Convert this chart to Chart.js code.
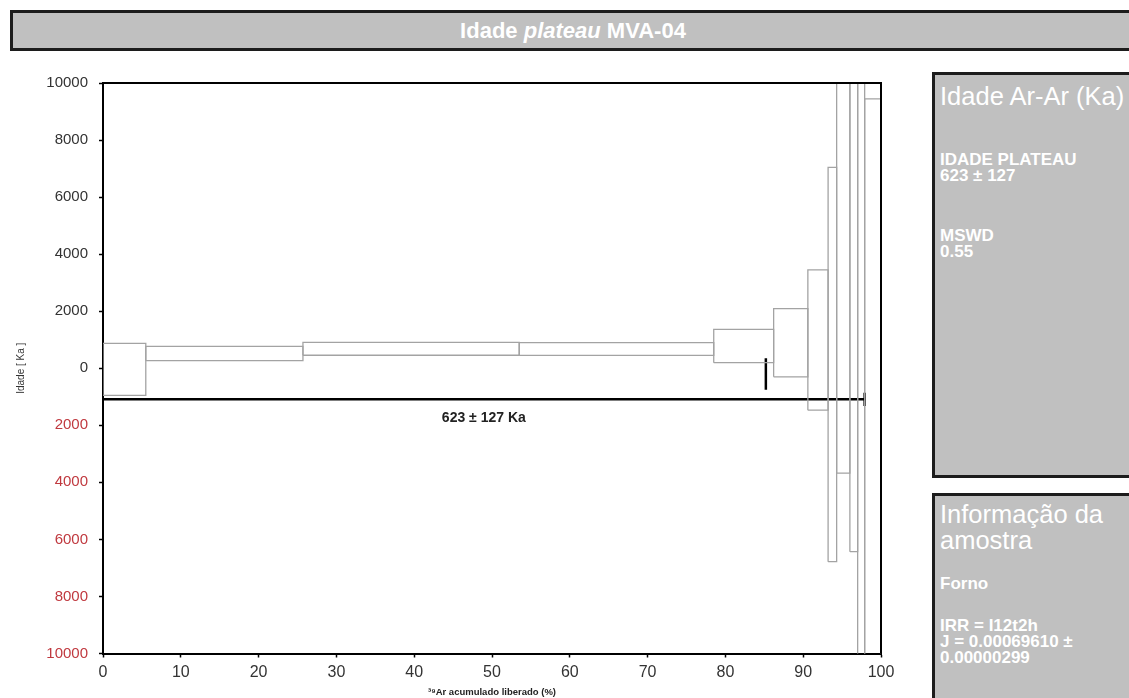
<!DOCTYPE html>
<html>
<head>
<meta charset="utf-8">
<script src="https://cdn.jsdelivr.net/npm/chart.js@4.4.0/dist/chart.umd.min.js"></script>
<style>
  html, body { margin: 0; padding: 0; width: 1129px; height: 698px; overflow: hidden; background: #fff; }
  body { position: relative; font-family: 'Liberation Sans', Arial, sans-serif; }
  #titleBar {
    position: absolute; left: 10px; top: 10px; width: 1120px; height: 35px;
    background: #c0c0c0; border: 3px solid #1c1c1c; color: #fff;
    font-weight: bold; font-size: 22px; line-height: 35px; text-align: center;
  }
  .panel {
    position: absolute; left: 932px; width: 200px; background: #c0c0c0;
    border: 3px solid #1c1c1c; color: #fff; padding: 0 0 0 5px; box-sizing: border-box;
  }
  .panel .head { font-size: 25.5px; line-height: 27px; }
  .panel .body { font-size: 17px; font-weight: bold; line-height: 16px; }
  #wrap { position: absolute; left: 0; top: 60px; width: 920px; height: 645px; }
</style>
</head>
<body>
<div id="titleBar">Idade <i>plateau</i> MVA-04</div>

<div class="panel" style="top:72px;height:406px;">
  <div class="head" style="margin-top:8px;">Idade Ar-Ar (Ka)</div>
  <div class="body" style="margin-top:42px;">IDADE PLATEAU<br>623 ± 127</div>
  <div class="body" style="margin-top:44px;">MSWD<br>0.55</div>
</div>

<div class="panel" style="top:493px;height:230px;">
  <div class="head" style="margin-top:5px;line-height:26px;">Informação da<br>amostra</div>
  <div class="body" style="margin-top:23px;">Forno</div>
  <div class="body" style="margin-top:26px;">IRR = I12t2h<br>J = 0.00069610 ±<br>0.00000299</div>
</div>

<div id="wrap"><canvas id="plateau_chart"></canvas></div>

<script>
'use strict'

// degraus de aquecimento: % acumulado de 39Ar e idade (Ka), limites de erro
const stepEdges = [0, 5.5, 25.7, 53.5, 78.5, 86.2, 90.6, 93.2, 94.3, 96.0, 97.0, 97.9, 100];
const stepLow   = [-950, 270, 455, 450, 195, -300, -1470, -6780, -3680, -6430, -12000, -12000];
const stepHigh  = [870, 765, 905, 900, 1360, 2090, 3450, 7040, 12000, 12000, 12000, 9440];

const xTicks = [0, 10, 20, 30, 40, 50, 60, 70, 80, 90, 100];
const yTicks = [-10000, -8000, -6000, -4000, -2000, 0, 2000, 4000, 6000, 8000, 10000];

const plateauAge = 623;
const plateauErr = 127;
const plateauLineY = -1085;
const plateauRange = [0, 97.9];
const plateauCap = [-860, -1320];
const markerX = 85.2;
const markerRange = [354, -758];

window.onload = () => {
    const ctx = document.getElementById('plateau_chart').getContext('2d');

    const boxes = stepEdges.slice(0, -1).map((x0, i) => {
        const x1 = stepEdges[i + 1];
        return {
            data: [
                {x: x0, y: stepLow[i]}, {x: x1, y: stepLow[i]},
                {x: x1, y: stepHigh[i]}, {x: x0, y: stepHigh[i]},
                {x: x0, y: stepLow[i]}
            ],
            showLine: true,
            borderColor: '#a3a3a3',
            borderWidth: 1.3,
            pointRadius: 0,
            fill: false
        };
    });

    const blackLine = (pts, w) => ({
        data: pts, showLine: true, borderColor: '#000', borderWidth: w,
        pointRadius: 0, fill: false
    });

    const datasets = boxes.concat([
        blackLine(plateauRange.map(x => ({x: x, y: plateauLineY})), 2.5),
        blackLine(plateauCap.map(y => ({x: plateauRange[1], y: y})), 2.5),
        blackLine(markerRange.map(y => ({x: markerX, y: y})), 2.5)
    ]);

    const frame = {
        id: 'frame',
        afterDatasetsDraw(chart) {
            const {ctx, chartArea: a, scales} = chart;
            ctx.save();
            ctx.strokeStyle = '#000';
            ctx.lineWidth = 2;
            ctx.beginPath();
            ctx.moveTo(a.left, a.top);
            ctx.lineTo(a.right, a.top);
            ctx.lineTo(a.right, a.bottom);
            ctx.stroke();

            const mx = scales.x.getPixelForValue((plateauRange[0] + plateauRange[1]) / 2);
            const my = scales.y.getPixelForValue(plateauLineY) + 19;
            ctx.fillStyle = '#222';
            ctx.font = 'bold 14px "Liberation Sans", Arial, sans-serif';
            ctx.textAlign = 'center';
            ctx.textBaseline = 'middle';
            ctx.fillText(`${plateauAge} ± ${plateauErr} Ka`, mx, my);
            ctx.restore();
        }
    };

    new Chart(ctx, {
        type: 'scatter',
        data: {datasets: datasets},
        options: {
            responsive: true,
            maintainAspectRatio: false,
            animation: false,
            layout: {padding: {top: 23, right: 39, bottom: 0, left: 0}},
            plugins: {legend: {display: false}, tooltip: {enabled: false}},
            scales: {
                x: {
                    type: 'linear', min: 0, max: 100,
                    afterBuildTicks: s => { s.ticks = xTicks.map(v => ({value: v})); },
                    afterFit: s => { s.height = 51.5; },
                    grid: {drawOnChartArea: false, tickLength: 4, tickColor: '#000', tickWidth: 1.5},
                    border: {color: '#000', width: 2},
                    ticks: {color: '#333', padding: 5, font: {size: 16, family: 'Liberation Sans'}},
                    title: {
                        display: true, text: '³⁹Ar acumulado liberado (%)', color: '#222',
                        font: {size: 9.5, weight: 'bold', family: 'Liberation Sans'},
                        padding: {top: 0, bottom: 7}
                    }
                },
                y: {
                    type: 'linear', min: -10000, max: 10000,
                    afterBuildTicks: s => { s.ticks = yTicks.map(v => ({value: v})); },
                    afterFit: s => { s.width = 103; },
                    grid: {drawOnChartArea: false, tickLength: 4, tickColor: '#000', tickWidth: 1.5},
                    border: {color: '#000', width: 2},
                    ticks: {
                        padding: 11,
                        font: {size: 15, family: 'Liberation Sans'},
                        color: c => (c.tick && c.tick.value < 0) ? '#c0393f' : '#333',
                        callback: v => Math.abs(v)
                    },
                    title: {
                        display: true, text: 'Idade [ Ka ]', color: '#333',
                        font: {size: 10, family: 'Liberation Sans'},
                        padding: {top: 15, bottom: 0}
                    }
                }
            }
        },
        plugins: [frame]
    });
};
</script>
</body>
</html>
